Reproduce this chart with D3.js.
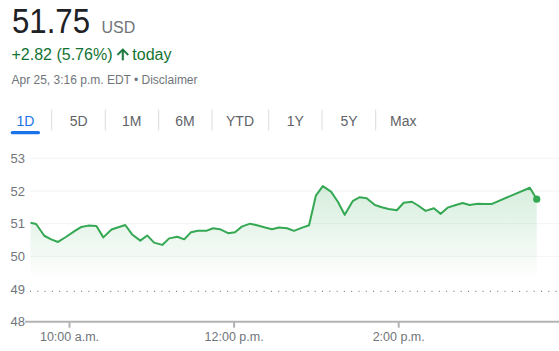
<html>
<script src="https://cdnjs.cloudflare.com/ajax/libs/d3/7.8.5/d3.min.js"></script>
<style>
  body { margin: 0; background: #fff; }
  text { font-family: Arial, "Liberation Sans", sans-serif; }
</style>
<body>
  <svg width="559" height="351"></svg>
</body>
</html>
<script>

  // intraday prices
  const times = ['9:32','9:36','9:42','9:47','9:52','9:58','10:04','10:09','10:14','10:20',
    '10:25','10:31','10:36','10:41','10:46','10:52','10:57','11:02','11:08','11:13',
    '11:19','11:24','11:29','11:34','11:40','11:45','11:50','11:56','12:01','12:06',
    '12:12','12:17','12:23','12:28','12:33','12:39','12:44','12:50','12:55','13:00',
    '13:05','13:11','13:16','13:21','13:27','13:32','13:37','13:43','13:48','13:53',
    '13:59','14:04','14:10','14:15','14:20','14:26','14:31','14:36','14:42','14:47',
    '14:52','14:58','15:03','15:08','15:36','15:41'];
  const prices = [51.03,50.99,50.63,50.52,50.44,50.60,50.77,50.90,50.94,50.93,
    50.58,50.82,50.89,50.96,50.67,50.48,50.64,50.42,50.35,50.55,
    50.60,50.52,50.74,50.78,50.78,50.86,50.83,50.71,50.74,50.91,
    51.00,50.95,50.88,50.83,50.88,50.86,50.78,50.88,50.95,51.86,
    52.15,51.98,51.67,51.27,51.70,51.81,51.78,51.57,51.50,51.45,
    51.41,51.64,51.67,51.54,51.39,51.47,51.30,51.49,51.57,51.63,
    51.57,51.61,51.60,51.60,52.10,51.75];
  const prevClose = 48.93;
  const yTicks = [48, 49, 50, 51, 52, 53];
  const xTicks = ['10:00', '12:00', '14:00'];
  const xTickLabels = ['10:00 a.m.', '12:00 p.m.', '2:00 p.m.'];
  const tabs = ['1D', '5D', '1M', '6M', 'YTD', '1Y', '5Y', 'Max'];
  const tabCenters = [25.5, 78.7, 131.7, 185, 240, 295.3, 349, 403.3];
  const tabSeps = [51.7, 105.3, 158.7, 212, 268.7, 322, 375.7];

  const parse = d3.timeParse('%H:%M');
  const data = times.map((t, i) => ({ t: parse(t), v: prices[i] }));

  const svg = d3.select('svg');
  const green = '#34a853';
  const grey = '#70757a';

  // header
  svg.append('text').attr('x', 12).attr('y', 32.5)
    .attr('font-size', 35).attr('fill', '#202124')
    .attr('textLength', 78).attr('lengthAdjust', 'spacingAndGlyphs')
    .text('51.75');
  svg.append('text').attr('x', 101.5).attr('y', 32.5)
    .attr('font-size', 16).attr('fill', grey).text('USD');
  svg.append('text').attr('x', 11.5).attr('y', 60)
    .attr('font-size', 16).attr('fill', '#137333').text('+2.82 (5.76%)');
  svg.append('path')
    .attr('d', 'M4 12l1.41 1.41L11 7.83V20h2V7.83l5.58 5.59L20 12l-8-8-8 8z')
    .attr('transform', 'translate(114.2,45.7) scale(0.72)')
    .attr('fill', '#137333').attr('stroke', '#137333').attr('stroke-width', 0.8);
  svg.append('text').attr('x', 132.3).attr('y', 60)
    .attr('font-size', 16).attr('fill', '#137333').text('today');
  svg.append('text').attr('x', 11.5).attr('y', 84)
    .attr('font-size', 12).attr('fill', grey)
    .text('Apr 25, 3:16 p.m. EDT \u2022 Disclaimer');

  // range tabs
  svg.selectAll('.tab').data(tabs).enter().append('text')
    .attr('x', (d, i) => tabCenters[i]).attr('y', 126)
    .attr('text-anchor', 'middle').attr('font-size', 14)
    .attr('fill', (d, i) => i === 0 ? '#1a73e8' : '#5f6368')
    .text(d => d);
  svg.selectAll('.sep').data(tabSeps).enter().append('line')
    .attr('x1', d => d).attr('x2', d => d).attr('y1', 109.5).attr('y2', 130.5)
    .attr('stroke', '#dadce0').attr('stroke-width', 1);
  svg.append('rect').attr('x', 10.7).attr('y', 131).attr('width', 29.3).attr('height', 3.3)
    .attr('rx', 1.6).attr('fill', '#1a73e8');

  // chart
  const x = d3.scaleTime()
    .domain([parse('9:30'), parse('16:00')])
    .range([27.85, 27.85 + 390 * 1.3717]);
  const y = d3.scaleLinear().domain([48, 53]).range([321.7, 158.3]);

  svg.selectAll('.grid').data(yTicks.filter(d => d > 49)).enter().append('line')
    .attr('x1', 30).attr('x2', 559)
    .attr('y1', d => y(d)).attr('y2', d => y(d))
    .attr('stroke', '#f1f3f4').attr('stroke-width', 1);

  svg.selectAll('.ylab').data(yTicks).enter().append('text')
    .attr('x', 10.5).attr('y', d => y(d))
    .attr('dy', '0.35em').attr('font-size', 13).attr('fill', grey)
    .text(d => d);

  const grad = svg.append('defs').append('linearGradient')
    .attr('id', 'fillGrad').attr('gradientUnits', 'userSpaceOnUse')
    .attr('x1', 0).attr('x2', 0).attr('y1', y(52.15)).attr('y2', y(49.38));
  grad.append('stop').attr('offset', 0).attr('stop-color', green).attr('stop-opacity', 0.2);
  grad.append('stop').attr('offset', 1).attr('stop-color', green).attr('stop-opacity', 0.01);

  svg.append('path').datum(data)
    .attr('d', d3.area().x(d => x(d.t)).y0(y(49.38)).y1(d => y(d.v)))
    .attr('fill', 'url(#fillGrad)');

  // previous close
  svg.append('line')
    .attr('x1', 30).attr('x2', 559)
    .attr('y1', y(prevClose)).attr('y2', y(prevClose))
    .attr('stroke', '#5f6368').attr('stroke-width', 1)
    .attr('stroke-dasharray', '1,6.3');

  svg.append('path').datum(data)
    .attr('d', d3.line().x(d => x(d.t)).y(d => y(d.v)))
    .attr('fill', 'none').attr('stroke', green).attr('stroke-width', 2)
    .attr('stroke-linejoin', 'round');

  const last = data[data.length - 1];
  svg.append('circle').attr('cx', x(last.t)).attr('cy', y(last.v)).attr('r', 3.6)
    .attr('fill', green);

  // x axis
  const xAxis = svg.append('g').attr('transform', `translate(0, ${y(48)})`)
    .call(d3.axisBottom(x)
      .tickValues(xTicks.map(parse))
      .tickFormat((d, i) => xTickLabels[i])
      .tickSize(6).tickPadding(4));
  xAxis.select('.domain').remove();
  xAxis.insert('line', ':first-child').attr('x1', 25).attr('x2', 559)
    .attr('stroke', '#b3b3b3').attr('stroke-width', 2);
  xAxis.selectAll('.tick line').attr('stroke', '#b3b3b3').attr('stroke-width', 2);
  xAxis.selectAll('.tick text').attr('font-size', 12.5).attr('fill', grey)
    .attr('font-family', 'Arial, "Liberation Sans", sans-serif');

</script>
